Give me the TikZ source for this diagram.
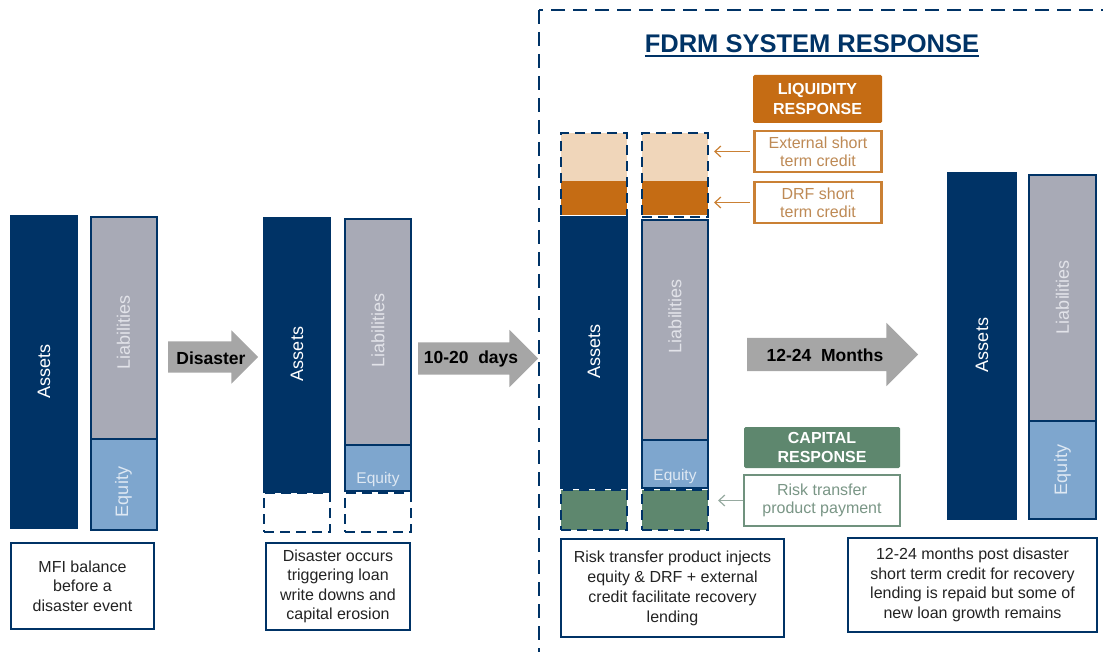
\documentclass[tikz,border=0pt]{standalone}
\usepackage{fontspec}
\setmainfont{Liberation Sans}
\usetikzlibrary{shapes.arrows,arrows.meta}
\definecolor{navy}{RGB}{0,51,102}
\definecolor{liabgray}{RGB}{168,170,182}
\definecolor{eqblue}{RGB}{126,166,206}
\definecolor{drforange}{RGB}{197,108,20}
\definecolor{peach}{RGB}{240,214,186}
\definecolor{capgreen}{RGB}{94,135,110}
\definecolor{arrowgray}{RGB}{166,166,166}
\definecolor{creditline}{RGB}{202,128,52}
\definecolor{credittext}{RGB}{190,138,85}
\definecolor{riskline}{RGB}{112,146,126}
\definecolor{risktext}{RGB}{122,150,134}
\definecolor{riskarrow}{RGB}{150,170,160}
\definecolor{captext}{RGB}{35,35,35}
\definecolor{liabtext}{RGB}{226,227,233}
\definecolor{eqtext}{RGB}{222,232,243}
\begin{document}
\begin{tikzpicture}[x=1pt, y=-1pt,
    every node/.style={inner sep=0pt, outer sep=0pt},
    bar/.style={draw=navy, line width=2pt, minimum width=66pt},
    assets/.style={bar, fill=navy},
    liab/.style={bar, fill=liabgray},
    equity/.style={bar, fill=eqblue},
    gapbox/.style={draw=navy, line width=2.8pt, dash pattern=on 10pt off 6pt, minimum width=66pt},
    lbl/.style={text=white, font=\fontsize{18}{18}\selectfont},
    eqlbl/.style={text=eqtext, font=\fontsize{15.5}{15.5}\selectfont},
    caption/.style={draw=navy, line width=2.4pt, fill=white, align=center, text=captext,
      font=\fontsize{16}{19.5}\selectfont},
    resphead/.style={rounded corners=1.5pt, text=white, align=center, minimum width=129pt,
      minimum height=48pt, font=\bfseries\fontsize{16}{19.5}\selectfont},
    respitem/.style={line width=2.4pt, fill=white, align=center, font=\fontsize{16}{18}\selectfont},
    bigarrow/.style={single arrow, fill=arrowgray, anchor=tail, single arrow tip angle=90},
    arrowtext/.style={text=black, font=\bfseries\fontsize{17.5}{17.5}\selectfont},
    feed/.style={-{Straight Barb[length=6pt,width=11pt]}, line width=1.2pt},
    frame/.style={draw=navy, line width=2.4pt, dash pattern=on 14pt off 8pt}]
  \useasboundingbox (0,0) rectangle (1103,652);
  \clip (0,0) rectangle (1103,652);

  % before the disaster
  \node[assets, minimum height=312pt] (a1) at (44,372) {};
  \node[liab, minimum height=222pt] (l1) at (123.5,328) {};
  \node[equity, minimum height=91pt] (e1) at (123.5,484.5) {};
  \node[lbl, rotate=90] (a1t) at (44,371.5) {Assets};
  \node[lbl, text=liabtext, rotate=90] (l1t) at (123.5,332) {Liabilities};
  \node[lbl, text=eqtext, rotate=90] (e1t) at (123.5,492) {Equity};
  \node[caption, minimum width=143pt, minimum height=86pt] (cap1) at (82.5,586)
    {MFI balance\\before a\\disaster event};

  \node[bigarrow, minimum height=90pt, inner ysep=15.5pt, single arrow head extend=11pt] (arrA) at (168,357) {};
  \node[arrowtext] (arrAt) at (211,358) {Disaster};

  % after the disaster
  \node[assets, minimum height=274pt] (a2) at (297,355) {};
  \node[liab, minimum height=226pt] (l2) at (378,332) {};
  \node[equity, minimum height=46pt] (e2) at (378,468) {};
  \node[gapbox, minimum height=39pt] (g2a) at (297,512.5) {};
  \node[gapbox, minimum height=39pt] (g2b) at (378,512.5) {};
  \node[lbl, rotate=90] (a2t) at (297,354) {Assets};
  \node[lbl, text=liabtext, rotate=90] (l2t) at (378,330.5) {Liabilities};
  \node[eqlbl, anchor=base] (e2t) at (378,483) {Equity};
  \node[caption, minimum width=144pt, minimum height=87pt] (cap2) at (338,586.5)
    {Disaster occurs\\triggering loan\\write downs and\\capital erosion};

  \node[bigarrow, minimum height=120pt, inner ysep=16pt, single arrow head extend=12.5pt] (arrB) at (418,358.5) {};
  \node[arrowtext] (arrBt) at (471,359) {10-20\ \ days};

  % FDRM system response
  \draw[frame] (539,10) rectangle (1130,653);
  \node[text=navy, anchor=base, font=\bfseries\fontsize{25.5}{25.5}\selectfont] (ttl) at (812,53) {FDRM SYSTEM RESPONSE};
  \draw[navy, line width=2pt] ([yshift=-3.5pt]ttl.base west) -- ([yshift=-3.5pt]ttl.base east);

  \node[bar, draw=none, fill=peach, minimum height=48pt] (p3a) at (594,157) {};
  \node[bar, draw=none, fill=drforange, minimum height=34pt] (o3a) at (594,198) {};
  \node[bar, draw=none, fill=peach, minimum height=48pt] (p3b) at (675,157) {};
  \node[bar, draw=none, fill=drforange, minimum height=34pt] (o3b) at (675,198) {};
  \node[assets, minimum height=271pt] (a3) at (594,352.5) {};
  \node[liab, minimum height=220pt] (l3) at (675,330) {};
  \node[equity, minimum height=48pt] (e3) at (675,464) {};
  \node[gapbox, minimum height=84pt] (topL) at (594,175) {};
  \node[gapbox, minimum height=84pt] (topR) at (675,175) {};
  \node[gapbox, fill=capgreen, minimum height=40pt] (grnL) at (594,510) {};
  \node[gapbox, fill=capgreen, minimum height=40pt] (grnR) at (675,510) {};
  \node[lbl, rotate=90] (a3t) at (594,351.5) {Assets};
  \node[lbl, text=liabtext, rotate=90] (l3t) at (675,316) {Liabilities};
  \node[eqlbl, anchor=base] (e3t) at (675,480) {Equity};

  \node[resphead, fill=drforange] (liq) at (817.5,99) {LIQUIDITY\\RESPONSE};
  \node[respitem, draw=creditline, text=credittext, minimum width=127pt, minimum height=41pt] (ext) at (818,151.5)
    {External short\\term credit};
  \node[respitem, draw=creditline, text=credittext, minimum width=127pt, minimum height=41pt] (drf) at (818,202.5)
    {DRF short\\term credit};
  \draw[feed, creditline, shorten <=5pt, shorten >=6pt] (ext.west) -- (ext.west -| topR.east);
  \draw[feed, creditline, shorten <=5pt, shorten >=6pt] (drf.west) -- (drf.west -| topR.east);

  \node[resphead, fill=capgreen, minimum width=156pt, minimum height=41pt] (capr) at (822,447.5) {CAPITAL\\RESPONSE};
  \node[respitem, line width=2pt, draw=riskline, text=risktext, minimum width=156pt, minimum height=51pt] (risk) at (822,500.5)
    {Risk transfer\\product payment};
  \draw[feed, riskarrow, shorten <=1pt, shorten >=10pt] (risk.west) -- (risk.west -| grnR.east);

  \node[caption, minimum width=223pt, minimum height=98pt, font=\fontsize{16}{20}\selectfont] (cap3) at (672.5,588)
    {Risk transfer product injects\\equity \& DRF + external\\credit facilitate recovery\\lending};

  \node[bigarrow, minimum height=171pt, inner ysep=16.5pt, single arrow head extend=15pt] (arrC) at (747,354.5) {};
  \node[arrowtext] (arrCt) at (825,355) {12-24\ \ Months};

  % 12-24 months later
  \node[assets, minimum width=68pt, minimum height=346pt] (a4) at (982,346) {};
  \node[liab, minimum width=67pt, minimum height=246pt] (l4) at (1062.5,298) {};
  \node[equity, minimum width=67pt, minimum height=98pt] (e4) at (1062.5,470) {};
  \node[lbl, rotate=90] (a4t) at (982,345) {Assets};
  \node[lbl, text=liabtext, rotate=90] (l4t) at (1062.5,297) {Liabilities};
  \node[lbl, text=eqtext, rotate=90] (e4t) at (1062.5,470) {Equity};
  \node[caption, minimum width=249pt, minimum height=94pt] (cap4) at (972.5,585)
    {12-24 months post disaster\\short term credit for recovery\\lending is repaid but some of\\new loan growth remains};
\end{tikzpicture}
\end{document}
